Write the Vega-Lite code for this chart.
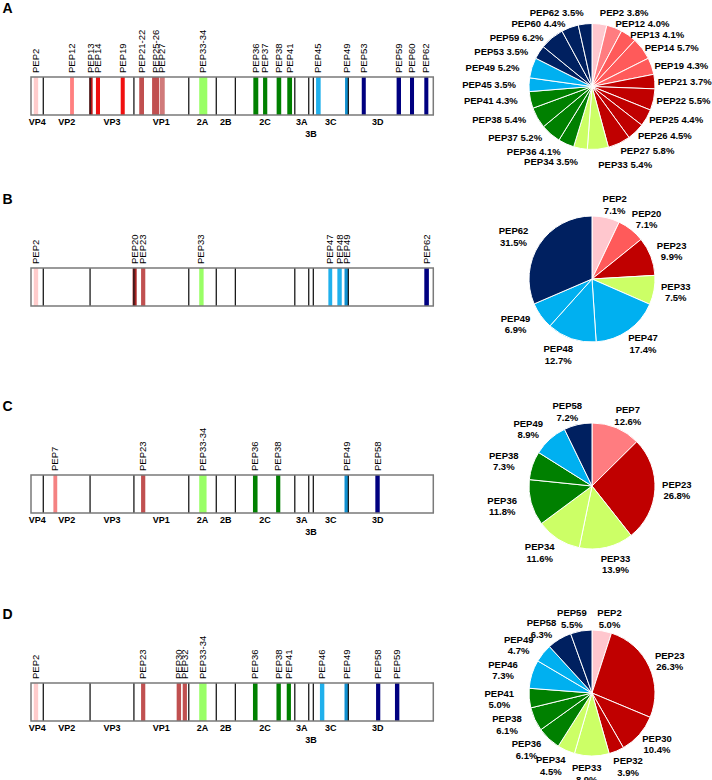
{
"$schema":"https://vega.github.io/schema/vega-lite/v6.json",
"padding":0,
"config":{"view":{"stroke":null},"text":{"font":"Liberation Sans","color":"#000"}},
"datasets":{
"segments":[{"name":"VP4","start":0,"end":67},{"name":"VP2","start":67,"end":322},{"name":"VP3","start":322,"end":561},{"name":"VP1","start":561,"end":860},{"name":"2A","start":860,"end":1010},{"name":"2B","start":1010,"end":1114},{"name":"2C","start":1114,"end":1438},{"name":"3A","start":1438,"end":1514},{"name":"3B","start":1514,"end":1539},{"name":"3C","start":1539,"end":1730},{"name":"3D","start":1730,"end":2193}],
"mapA":[{"pep":"PEP2","start":15,"end":39},{"pep":"PEP12","start":213,"end":234},{"pep":"PEP13","start":318,"end":336},{"pep":"PEP14","start":354,"end":376},{"pep":"PEP19","start":489,"end":511},{"pep":"PEP21-22","start":590,"end":616},{"pep":"PEP25-26","start":660,"end":699},{"pep":"PEP27","start":703,"end":729},{"pep":"PEP33-34","start":917,"end":961},{"pep":"PEP36","start":1212,"end":1239},{"pep":"PEP37","start":1265,"end":1288},{"pep":"PEP38","start":1339,"end":1364},{"pep":"PEP41","start":1397,"end":1423},{"pep":"PEP45","start":1554,"end":1579},{"pep":"PEP49","start":1712,"end":1733},{"pep":"PEP53","start":1803,"end":1825},{"pep":"PEP59","start":1993,"end":2017},{"pep":"PEP60","start":2066,"end":2088},{"pep":"PEP62","start":2144,"end":2166}],
"mapB":[{"pep":"PEP2","start":15,"end":39},{"pep":"PEP20","start":554,"end":576},{"pep":"PEP23","start":600,"end":623},{"pep":"PEP33","start":917,"end":941},{"pep":"PEP47","start":1621,"end":1642},{"pep":"PEP48","start":1670,"end":1694},{"pep":"PEP49","start":1709,"end":1732},{"pep":"PEP62","start":2144,"end":2169}],
"mapC":[{"pep":"PEP7","start":122,"end":143},{"pep":"PEP23","start":600,"end":623},{"pep":"PEP33-34","start":917,"end":957},{"pep":"PEP36","start":1210,"end":1235},{"pep":"PEP38","start":1336,"end":1359},{"pep":"PEP49","start":1709,"end":1732},{"pep":"PEP58","start":1877,"end":1901}],
"mapD":[{"pep":"PEP2","start":15,"end":39},{"pep":"PEP23","start":600,"end":623},{"pep":"PEP30","start":794,"end":818},{"pep":"PEP32","start":827,"end":850},{"pep":"PEP33-34","start":917,"end":957},{"pep":"PEP36","start":1210,"end":1235},{"pep":"PEP38","start":1338,"end":1362},{"pep":"PEP41","start":1394,"end":1417},{"pep":"PEP46","start":1575,"end":1599},{"pep":"PEP49","start":1709,"end":1732},{"pep":"PEP58","start":1881,"end":1904},{"pep":"PEP59","start":1984,"end":2008}],
"pieA":[{"i":1,"pep":"PEP2","value":3.8},{"i":2,"pep":"PEP12","value":4.0},{"i":3,"pep":"PEP13","value":4.1},{"i":4,"pep":"PEP14","value":5.7},{"i":5,"pep":"PEP19","value":4.3},{"i":6,"pep":"PEP21","value":3.7},{"i":7,"pep":"PEP22","value":5.5},{"i":8,"pep":"PEP25","value":4.4},{"i":9,"pep":"PEP26","value":4.5},{"i":10,"pep":"PEP27","value":5.8},{"i":11,"pep":"PEP33","value":5.4},{"i":12,"pep":"PEP34","value":3.5},{"i":13,"pep":"PEP36","value":4.1},{"i":14,"pep":"PEP37","value":5.2},{"i":15,"pep":"PEP38","value":5.4},{"i":16,"pep":"PEP41","value":4.3},{"i":17,"pep":"PEP45","value":3.5},{"i":18,"pep":"PEP49","value":5.2},{"i":19,"pep":"PEP53","value":3.5},{"i":20,"pep":"PEP59","value":6.2},{"i":21,"pep":"PEP60","value":4.4},{"i":22,"pep":"PEP62","value":3.5}],
"pieB":[{"i":1,"pep":"PEP2","value":7.1},{"i":2,"pep":"PEP20","value":7.1},{"i":3,"pep":"PEP23","value":9.9},{"i":4,"pep":"PEP33","value":7.5},{"i":5,"pep":"PEP47","value":17.4},{"i":6,"pep":"PEP48","value":12.7},{"i":7,"pep":"PEP49","value":6.9},{"i":8,"pep":"PEP62","value":31.5}],
"pieC":[{"i":1,"pep":"PEP7","value":12.6},{"i":2,"pep":"PEP23","value":26.8},{"i":3,"pep":"PEP33","value":13.9},{"i":4,"pep":"PEP34","value":11.6},{"i":5,"pep":"PEP36","value":11.8},{"i":6,"pep":"PEP38","value":7.3},{"i":7,"pep":"PEP49","value":8.9},{"i":8,"pep":"PEP58","value":7.2}],
"pieD":[{"i":1,"pep":"PEP2","value":5.0},{"i":2,"pep":"PEP23","value":26.3},{"i":3,"pep":"PEP30","value":10.4},{"i":4,"pep":"PEP32","value":3.9},{"i":5,"pep":"PEP33","value":8.9},{"i":6,"pep":"PEP34","value":4.5},{"i":7,"pep":"PEP36","value":6.1},{"i":8,"pep":"PEP38","value":6.1},{"i":9,"pep":"PEP41","value":5.0},{"i":10,"pep":"PEP46","value":7.3},{"i":11,"pep":"PEP49","value":4.7},{"i":12,"pep":"PEP58","value":6.3},{"i":13,"pep":"PEP59","value":5.5}]
},
"concat":[
{"width":472,"height":191,"layer":[
 {"data":{"name":"segments"},"mark":{"type":"rect","fill":"white"},"encoding":{"x":{"aggregate":"min","field":"start","type":"quantitative","scale":{"domain":[-169,2404],"nice":false,"zero":false},"axis":null},"x2":{"aggregate":"max","field":"end"},"y":{"datum":0,"type":"quantitative","scale":{"domain":[-2.0,3.0263],"nice":false,"zero":false},"axis":null},"y2":{"datum":1}}},
 {"data":{"name":"mapA"},"mark":{"type":"rect"},"encoding":{"x":{"field":"start","type":"quantitative"},"x2":{"field":"end"},"y":{"datum":0,"type":"quantitative"},"y2":{"datum":1},"fill":{"field":"pep","type":"nominal","legend":null,"scale":{"domain":["PEP2","PEP7","PEP12","PEP13","PEP14","PEP19","PEP20","PEP21-22","PEP23","PEP25-26","PEP27","PEP30","PEP32","PEP33","PEP33-34","PEP36","PEP37","PEP38","PEP41","PEP45","PEP46","PEP47","PEP48","PEP49","PEP53","PEP58","PEP59","PEP60","PEP62"],"range":["#ffcccc","#f48282","#ff8080","#b81414","#f01010","#f01010","#a82020","#c05050","#c05050","#c05050","#d07a7a","#c05050","#c05050","#99ff66","#99ff66","#008000","#008000","#008000","#008000","#20b0ec","#20b0ec","#20b0ec","#20b0ec","#1090d0","#000080","#000080","#000080","#000080","#000080"]}}}},
 {"data":{"name":"segments"},"transform":[{"filter":"datum.end < 2193"}],"mark":{"type":"rule","color":"#1a1a1a","strokeWidth":1.3},"encoding":{"x":{"field":"end","type":"quantitative"},"y":{"datum":0,"type":"quantitative"},"y2":{"datum":1}}},
 {"data":{"name":"segments"},"mark":{"type":"rect","filled":false,"color":"#7a7a7a","strokeWidth":1.5},"encoding":{"x":{"aggregate":"min","field":"start","type":"quantitative"},"x2":{"aggregate":"max","field":"end"},"y":{"datum":0,"type":"quantitative"},"y2":{"datum":1}}},
 {"data":{"name":"mapA"},"transform":[{"calculate":"(datum.start+datum.end)/2","as":"mid"}],"mark":{"type":"text","angle":270,"align":"left","baseline":"middle","fontSize":9.5},"encoding":{"x":{"field":"mid","type":"quantitative"},"y":{"datum":1.105,"type":"quantitative"},"text":{"field":"pep"}}},
 {"data":{"name":"segments"},"transform":[{"filter":"datum.name !== '3B' && datum.name !== '3D'"},{"calculate":"(datum.start+datum.end)/2","as":"mid"}],"mark":{"type":"text","fontWeight":"bold","fontSize":9,"baseline":"middle","align":"center"},"encoding":{"x":{"field":"mid","type":"quantitative"},"y":{"datum":-0.184,"type":"quantitative"},"text":{"field":"name"}}},
 {"data":{"name":"segments"},"transform":[{"filter":"datum.name === '3D'"},{"calculate":"(datum.start+datum.end)/2","as":"mid"}],"mark":{"type":"text","fontWeight":"bold","fontSize":9,"baseline":"middle","align":"center","dx":-13},"encoding":{"x":{"field":"mid","type":"quantitative"},"y":{"datum":-0.184,"type":"quantitative"},"text":{"field":"name"}}},
 {"data":{"name":"segments"},"transform":[{"filter":"datum.name === '3B'"},{"calculate":"(datum.start+datum.end)/2","as":"mid"}],"mark":{"type":"text","fontWeight":"bold","fontSize":9,"baseline":"middle","align":"center"},"encoding":{"x":{"field":"mid","type":"quantitative"},"y":{"datum":-0.5,"type":"quantitative"},"text":{"field":"name"}}},
 {"data":{"values":[{"panel":"A"}]},"mark":{"type":"text","fontWeight":"bold","fontSize":14,"baseline":"middle","align":"center"},"encoding":{"x":{"datum":-128,"type":"quantitative"},"y":{"datum":2.8,"type":"quantitative"},"text":{"field":"panel"}}}
]},
{"width":240,"height":173,"data":{"name":"pieA"},
 "transform":[{"stack":"value","groupby":[],"sort":[{"field":"i","order":"ascending"}],"as":["v0","v1"]},{"calculate":"(datum.v0+datum.v1)/2","as":"mid"},{"calculate":"datum.pep + ' ' + format(datum.value, '.1f') + '%'","as":"lab"},
  {"calculate":"2*PI*datum.mid/100","as":"a"},
  {"calculate":"(datum.mid < 50 ? 66 : 76)*sin(datum.a)","as":"dx"},
  {"calculate":"cos(datum.a) > 0 ? (-63.5*cos(datum.a) - 12*pow(cos(datum.a), 20)) : (-68*cos(datum.a) + 11*pow(abs(cos(datum.a)), 12))","as":"dy"},
  {"calculate":"sqrt(datum.dx*datum.dx + datum.dy*datum.dy)","as":"rr"},
  {"calculate":"100*atan2(datum.dx, -datum.dy)/(2*PI)","as":"ta"}],
 "layer":[
  {"mark":{"type":"arc","outerRadius":63,"stroke":"white","strokeWidth":1},"encoding":{"theta":{"field":"v0","type":"quantitative","stack":null,"scale":{"domain":[0,100]}},"theta2":{"field":"v1"},"color":{"field":"pep","type":"nominal","legend":null,"scale":{"domain":["PEP2","PEP7","PEP12","PEP13","PEP14","PEP19","PEP20","PEP21","PEP22","PEP23","PEP25","PEP26","PEP27","PEP30","PEP32","PEP33","PEP34","PEP36","PEP37","PEP38","PEP41","PEP45","PEP46","PEP47","PEP48","PEP49","PEP53","PEP58","PEP59","PEP60","PEP62"],"range":["#ffc7ce","#ff7c80","#ff7c80","#ff5a5a","#ff5a5a","#ff5a5a","#ff5a5a","#c00000","#c00000","#c00000","#c00000","#c00000","#c00000","#c00000","#c00000","#ccff66","#ccff66","#008000","#008000","#008000","#008000","#00b0f0","#00b0f0","#00b0f0","#00b0f0","#00b0f0","#002060","#002060","#002060","#002060","#002060"]}}}},
  {"transform":[{"filter":"datum.mid < 50"}],"mark":{"type":"text","align":"left","baseline":"middle","fontSize":9.5,"fontWeight":"bold"},"encoding":{"theta":{"field":"ta","type":"quantitative","stack":null},"radius":{"field":"rr","type":"quantitative","scale":null},"text":{"field":"lab"}}},
  {"transform":[{"filter":"datum.mid >= 50"}],"mark":{"type":"text","align":"right","baseline":"middle","fontSize":9.5,"fontWeight":"bold"},"encoding":{"theta":{"field":"ta","type":"quantitative","stack":null},"radius":{"field":"rr","type":"quantitative","scale":null},"text":{"field":"lab"}}}
 ]},
{"width":472,"height":207,"layer":[
 {"data":{"name":"segments"},"mark":{"type":"rect","fill":"white"},"encoding":{"x":{"aggregate":"min","field":"start","type":"quantitative","scale":{"domain":[-169,2404],"nice":false,"zero":false},"axis":null},"x2":{"aggregate":"max","field":"end"},"y":{"datum":0,"type":"quantitative","scale":{"domain":[-2.4211,3.0263],"nice":false,"zero":false},"axis":null},"y2":{"datum":1}}},
 {"data":{"name":"mapB"},"mark":{"type":"rect"},"encoding":{"x":{"field":"start","type":"quantitative"},"x2":{"field":"end"},"y":{"datum":0,"type":"quantitative"},"y2":{"datum":1},"fill":{"field":"pep","type":"nominal","legend":null,"scale":{"domain":["PEP2","PEP7","PEP12","PEP13","PEP14","PEP19","PEP20","PEP21-22","PEP23","PEP25-26","PEP27","PEP30","PEP32","PEP33","PEP33-34","PEP36","PEP37","PEP38","PEP41","PEP45","PEP46","PEP47","PEP48","PEP49","PEP53","PEP58","PEP59","PEP60","PEP62"],"range":["#ffcccc","#f48282","#ff8080","#b81414","#f01010","#f01010","#a82020","#c05050","#c05050","#c05050","#d07a7a","#c05050","#c05050","#99ff66","#99ff66","#008000","#008000","#008000","#008000","#20b0ec","#20b0ec","#20b0ec","#20b0ec","#1090d0","#000080","#000080","#000080","#000080","#000080"]}}}},
 {"data":{"name":"segments"},"transform":[{"filter":"datum.end < 2193"}],"mark":{"type":"rule","color":"#1a1a1a","strokeWidth":1.3},"encoding":{"x":{"field":"end","type":"quantitative"},"y":{"datum":0,"type":"quantitative"},"y2":{"datum":1}}},
 {"data":{"name":"segments"},"mark":{"type":"rect","filled":false,"color":"#7a7a7a","strokeWidth":1.5},"encoding":{"x":{"aggregate":"min","field":"start","type":"quantitative"},"x2":{"aggregate":"max","field":"end"},"y":{"datum":0,"type":"quantitative"},"y2":{"datum":1}}},
 {"data":{"name":"mapB"},"transform":[{"calculate":"(datum.start+datum.end)/2","as":"mid"}],"mark":{"type":"text","angle":270,"align":"left","baseline":"middle","fontSize":9.5},"encoding":{"x":{"field":"mid","type":"quantitative"},"y":{"datum":1.105,"type":"quantitative"},"text":{"field":"pep"}}},
 {"data":{"values":[{"panel":"B"}]},"mark":{"type":"text","fontWeight":"bold","fontSize":14,"baseline":"middle","align":"center"},"encoding":{"x":{"datum":-128,"type":"quantitative"},"y":{"datum":2.8,"type":"quantitative"},"text":{"field":"panel"}}}
]},
{"width":240,"height":176,"data":{"name":"pieB"},
 "transform":[{"stack":"value","groupby":[],"sort":[{"field":"i","order":"ascending"}],"as":["v0","v1"]},{"calculate":"(datum.v0+datum.v1)/2","as":"mid"},{"calculate":"datum.pep + '|' + format(datum.value, '.1f') + '%'","as":"lab"},
  {"calculate":"2*PI*datum.mid/100.1","as":"a"},
  {"calculate":"(datum.mid < 50 ? 80 : 88)*sin(datum.a) + (sin(datum.a) >= 0 ? 5 : -5)","as":"dx"},
  {"calculate":"(cos(datum.a) > 0 ? -76*cos(datum.a) : (-77*cos(datum.a) + 4*pow(abs(cos(datum.a)), 4))) - 5.75","as":"dy"},
  {"calculate":"sqrt(datum.dx*datum.dx + datum.dy*datum.dy)","as":"rr"},
  {"calculate":"100.1*atan2(datum.dx, -datum.dy)/(2*PI)","as":"ta"}],
 "layer":[
  {"mark":{"type":"arc","outerRadius":63,"stroke":"white","strokeWidth":1},"encoding":{"theta":{"field":"v0","type":"quantitative","stack":null,"scale":{"domain":[0,100.1]}},"theta2":{"field":"v1"},"color":{"field":"pep","type":"nominal","legend":null,"scale":{"domain":["PEP2","PEP7","PEP12","PEP13","PEP14","PEP19","PEP20","PEP21","PEP22","PEP23","PEP25","PEP26","PEP27","PEP30","PEP32","PEP33","PEP34","PEP36","PEP37","PEP38","PEP41","PEP45","PEP46","PEP47","PEP48","PEP49","PEP53","PEP58","PEP59","PEP60","PEP62"],"range":["#ffc7ce","#ff7c80","#ff7c80","#ff5a5a","#ff5a5a","#ff5a5a","#ff5a5a","#c00000","#c00000","#c00000","#c00000","#c00000","#c00000","#c00000","#c00000","#ccff66","#ccff66","#008000","#008000","#008000","#008000","#00b0f0","#00b0f0","#00b0f0","#00b0f0","#00b0f0","#002060","#002060","#002060","#002060","#002060"]}}}},
  {"mark":{"type":"text","align":"center","baseline":"middle","fontSize":9.5,"fontWeight":"bold","lineBreak":"|","lineHeight":11.5},"encoding":{"theta":{"field":"ta","type":"quantitative","stack":null},"radius":{"field":"rr","type":"quantitative","scale":null},"text":{"field":"lab"}}}
 ]},
{"width":472,"height":208,"layer":[
 {"data":{"name":"segments"},"mark":{"type":"rect","fill":"white"},"encoding":{"x":{"aggregate":"min","field":"start","type":"quantitative","scale":{"domain":[-169,2404],"nice":false,"zero":false},"axis":null},"x2":{"aggregate":"max","field":"end"},"y":{"datum":0,"type":"quantitative","scale":{"domain":[-2.4474,3.0263],"nice":false,"zero":false},"axis":null},"y2":{"datum":1}}},
 {"data":{"name":"mapC"},"mark":{"type":"rect"},"encoding":{"x":{"field":"start","type":"quantitative"},"x2":{"field":"end"},"y":{"datum":0,"type":"quantitative"},"y2":{"datum":1},"fill":{"field":"pep","type":"nominal","legend":null,"scale":{"domain":["PEP2","PEP7","PEP12","PEP13","PEP14","PEP19","PEP20","PEP21-22","PEP23","PEP25-26","PEP27","PEP30","PEP32","PEP33","PEP33-34","PEP36","PEP37","PEP38","PEP41","PEP45","PEP46","PEP47","PEP48","PEP49","PEP53","PEP58","PEP59","PEP60","PEP62"],"range":["#ffcccc","#f48282","#ff8080","#b81414","#f01010","#f01010","#a82020","#c05050","#c05050","#c05050","#d07a7a","#c05050","#c05050","#99ff66","#99ff66","#008000","#008000","#008000","#008000","#20b0ec","#20b0ec","#20b0ec","#20b0ec","#1090d0","#000080","#000080","#000080","#000080","#000080"]}}}},
 {"data":{"name":"segments"},"transform":[{"filter":"datum.end < 2193"}],"mark":{"type":"rule","color":"#1a1a1a","strokeWidth":1.3},"encoding":{"x":{"field":"end","type":"quantitative"},"y":{"datum":0,"type":"quantitative"},"y2":{"datum":1}}},
 {"data":{"name":"segments"},"mark":{"type":"rect","filled":false,"color":"#7a7a7a","strokeWidth":1.5},"encoding":{"x":{"aggregate":"min","field":"start","type":"quantitative"},"x2":{"aggregate":"max","field":"end"},"y":{"datum":0,"type":"quantitative"},"y2":{"datum":1}}},
 {"data":{"name":"mapC"},"transform":[{"calculate":"(datum.start+datum.end)/2","as":"mid"}],"mark":{"type":"text","angle":270,"align":"left","baseline":"middle","fontSize":9.5},"encoding":{"x":{"field":"mid","type":"quantitative"},"y":{"datum":1.105,"type":"quantitative"},"text":{"field":"pep"}}},
 {"data":{"name":"segments"},"transform":[{"filter":"datum.name !== '3B' && datum.name !== '3D'"},{"calculate":"(datum.start+datum.end)/2","as":"mid"}],"mark":{"type":"text","fontWeight":"bold","fontSize":9,"baseline":"middle","align":"center"},"encoding":{"x":{"field":"mid","type":"quantitative"},"y":{"datum":-0.184,"type":"quantitative"},"text":{"field":"name"}}},
 {"data":{"name":"segments"},"transform":[{"filter":"datum.name === '3D'"},{"calculate":"(datum.start+datum.end)/2","as":"mid"}],"mark":{"type":"text","fontWeight":"bold","fontSize":9,"baseline":"middle","align":"center","dx":-13},"encoding":{"x":{"field":"mid","type":"quantitative"},"y":{"datum":-0.184,"type":"quantitative"},"text":{"field":"name"}}},
 {"data":{"name":"segments"},"transform":[{"filter":"datum.name === '3B'"},{"calculate":"(datum.start+datum.end)/2","as":"mid"}],"mark":{"type":"text","fontWeight":"bold","fontSize":9,"baseline":"middle","align":"center"},"encoding":{"x":{"field":"mid","type":"quantitative"},"y":{"datum":-0.5,"type":"quantitative"},"text":{"field":"name"}}},
 {"data":{"values":[{"panel":"C"}]},"mark":{"type":"text","fontWeight":"bold","fontSize":14,"baseline":"middle","align":"center"},"encoding":{"x":{"datum":-128,"type":"quantitative"},"y":{"datum":2.8,"type":"quantitative"},"text":{"field":"panel"}}}
]},
{"width":240,"height":176,"data":{"name":"pieC"},
 "transform":[{"stack":"value","groupby":[],"sort":[{"field":"i","order":"ascending"}],"as":["v0","v1"]},{"calculate":"(datum.v0+datum.v1)/2","as":"mid"},{"calculate":"datum.pep + '|' + format(datum.value, '.1f') + '%'","as":"lab"},
  {"calculate":"2*PI*datum.mid/100.1","as":"a"},
  {"calculate":"(datum.mid < 50 ? 80 : 88)*sin(datum.a) + (sin(datum.a) >= 0 ? 5 : -5)","as":"dx"},
  {"calculate":"(cos(datum.a) > 0 ? -76*cos(datum.a) : (-77*cos(datum.a) + 4*pow(abs(cos(datum.a)), 4))) - 5.75","as":"dy"},
  {"calculate":"sqrt(datum.dx*datum.dx + datum.dy*datum.dy)","as":"rr"},
  {"calculate":"100.1*atan2(datum.dx, -datum.dy)/(2*PI)","as":"ta"}],
 "layer":[
  {"mark":{"type":"arc","outerRadius":63,"stroke":"white","strokeWidth":1},"encoding":{"theta":{"field":"v0","type":"quantitative","stack":null,"scale":{"domain":[0,100.1]}},"theta2":{"field":"v1"},"color":{"field":"pep","type":"nominal","legend":null,"scale":{"domain":["PEP2","PEP7","PEP12","PEP13","PEP14","PEP19","PEP20","PEP21","PEP22","PEP23","PEP25","PEP26","PEP27","PEP30","PEP32","PEP33","PEP34","PEP36","PEP37","PEP38","PEP41","PEP45","PEP46","PEP47","PEP48","PEP49","PEP53","PEP58","PEP59","PEP60","PEP62"],"range":["#ffc7ce","#ff7c80","#ff7c80","#ff5a5a","#ff5a5a","#ff5a5a","#ff5a5a","#c00000","#c00000","#c00000","#c00000","#c00000","#c00000","#c00000","#c00000","#ccff66","#ccff66","#008000","#008000","#008000","#008000","#00b0f0","#00b0f0","#00b0f0","#00b0f0","#00b0f0","#002060","#002060","#002060","#002060","#002060"]}}}},
  {"mark":{"type":"text","align":"center","baseline":"middle","fontSize":9.5,"fontWeight":"bold","lineBreak":"|","lineHeight":11.5},"encoding":{"theta":{"field":"ta","type":"quantitative","stack":null},"radius":{"field":"rr","type":"quantitative","scale":null},"text":{"field":"lab"}}}
 ]},
{"width":472,"height":174,"layer":[
 {"data":{"name":"segments"},"mark":{"type":"rect","fill":"white"},"encoding":{"x":{"aggregate":"min","field":"start","type":"quantitative","scale":{"domain":[-169,2404],"nice":false,"zero":false},"axis":null},"x2":{"aggregate":"max","field":"end"},"y":{"datum":0,"type":"quantitative","scale":{"domain":[-1.5526,3.0263],"nice":false,"zero":false},"axis":null},"y2":{"datum":1}}},
 {"data":{"name":"mapD"},"mark":{"type":"rect"},"encoding":{"x":{"field":"start","type":"quantitative"},"x2":{"field":"end"},"y":{"datum":0,"type":"quantitative"},"y2":{"datum":1},"fill":{"field":"pep","type":"nominal","legend":null,"scale":{"domain":["PEP2","PEP7","PEP12","PEP13","PEP14","PEP19","PEP20","PEP21-22","PEP23","PEP25-26","PEP27","PEP30","PEP32","PEP33","PEP33-34","PEP36","PEP37","PEP38","PEP41","PEP45","PEP46","PEP47","PEP48","PEP49","PEP53","PEP58","PEP59","PEP60","PEP62"],"range":["#ffcccc","#f48282","#ff8080","#b81414","#f01010","#f01010","#a82020","#c05050","#c05050","#c05050","#d07a7a","#c05050","#c05050","#99ff66","#99ff66","#008000","#008000","#008000","#008000","#20b0ec","#20b0ec","#20b0ec","#20b0ec","#1090d0","#000080","#000080","#000080","#000080","#000080"]}}}},
 {"data":{"name":"segments"},"transform":[{"filter":"datum.end < 2193"}],"mark":{"type":"rule","color":"#1a1a1a","strokeWidth":1.3},"encoding":{"x":{"field":"end","type":"quantitative"},"y":{"datum":0,"type":"quantitative"},"y2":{"datum":1}}},
 {"data":{"name":"segments"},"mark":{"type":"rect","filled":false,"color":"#7a7a7a","strokeWidth":1.5},"encoding":{"x":{"aggregate":"min","field":"start","type":"quantitative"},"x2":{"aggregate":"max","field":"end"},"y":{"datum":0,"type":"quantitative"},"y2":{"datum":1}}},
 {"data":{"name":"mapD"},"transform":[{"calculate":"(datum.start+datum.end)/2","as":"mid"}],"mark":{"type":"text","angle":270,"align":"left","baseline":"middle","fontSize":9.5},"encoding":{"x":{"field":"mid","type":"quantitative"},"y":{"datum":1.105,"type":"quantitative"},"text":{"field":"pep"}}},
 {"data":{"name":"segments"},"transform":[{"filter":"datum.name !== '3B' && datum.name !== '3D'"},{"calculate":"(datum.start+datum.end)/2","as":"mid"}],"mark":{"type":"text","fontWeight":"bold","fontSize":9,"baseline":"middle","align":"center"},"encoding":{"x":{"field":"mid","type":"quantitative"},"y":{"datum":-0.184,"type":"quantitative"},"text":{"field":"name"}}},
 {"data":{"name":"segments"},"transform":[{"filter":"datum.name === '3D'"},{"calculate":"(datum.start+datum.end)/2","as":"mid"}],"mark":{"type":"text","fontWeight":"bold","fontSize":9,"baseline":"middle","align":"center","dx":-13},"encoding":{"x":{"field":"mid","type":"quantitative"},"y":{"datum":-0.184,"type":"quantitative"},"text":{"field":"name"}}},
 {"data":{"name":"segments"},"transform":[{"filter":"datum.name === '3B'"},{"calculate":"(datum.start+datum.end)/2","as":"mid"}],"mark":{"type":"text","fontWeight":"bold","fontSize":9,"baseline":"middle","align":"center"},"encoding":{"x":{"field":"mid","type":"quantitative"},"y":{"datum":-0.5,"type":"quantitative"},"text":{"field":"name"}}},
 {"data":{"values":[{"panel":"D"}]},"mark":{"type":"text","fontWeight":"bold","fontSize":14,"baseline":"middle","align":"center"},"encoding":{"x":{"datum":-128,"type":"quantitative"},"y":{"datum":2.8,"type":"quantitative"},"text":{"field":"panel"}}}
]},
{"width":240,"height":174,"data":{"name":"pieD"},
 "transform":[{"stack":"value","groupby":[],"sort":[{"field":"i","order":"ascending"}],"as":["v0","v1"]},{"calculate":"(datum.v0+datum.v1)/2","as":"mid"},{"calculate":"datum.pep + '|' + format(datum.value, '.1f') + '%'","as":"lab"},
  {"calculate":"2*PI*datum.mid/100","as":"a"},
  {"calculate":"(datum.mid < 50 ? 80 : 88)*sin(datum.a) + (sin(datum.a) >= 0 ? 5 : -5)","as":"dx"},
  {"calculate":"(cos(datum.a) > 0 ? -75*cos(datum.a) : (-77*cos(datum.a) + 4*pow(abs(cos(datum.a)), 4))) - 5.75","as":"dy"},
  {"calculate":"sqrt(datum.dx*datum.dx + datum.dy*datum.dy)","as":"rr"},
  {"calculate":"100*atan2(datum.dx, -datum.dy)/(2*PI)","as":"ta"}],
 "layer":[
  {"mark":{"type":"arc","outerRadius":63,"stroke":"white","strokeWidth":1},"encoding":{"theta":{"field":"v0","type":"quantitative","stack":null,"scale":{"domain":[0,100]}},"theta2":{"field":"v1"},"color":{"field":"pep","type":"nominal","legend":null,"scale":{"domain":["PEP2","PEP7","PEP12","PEP13","PEP14","PEP19","PEP20","PEP21","PEP22","PEP23","PEP25","PEP26","PEP27","PEP30","PEP32","PEP33","PEP34","PEP36","PEP37","PEP38","PEP41","PEP45","PEP46","PEP47","PEP48","PEP49","PEP53","PEP58","PEP59","PEP60","PEP62"],"range":["#ffc7ce","#ff7c80","#ff7c80","#ff5a5a","#ff5a5a","#ff5a5a","#ff5a5a","#c00000","#c00000","#c00000","#c00000","#c00000","#c00000","#c00000","#c00000","#ccff66","#ccff66","#008000","#008000","#008000","#008000","#00b0f0","#00b0f0","#00b0f0","#00b0f0","#00b0f0","#002060","#002060","#002060","#002060","#002060"]}}}},
  {"mark":{"type":"text","align":"center","baseline":"middle","fontSize":9.5,"fontWeight":"bold","lineBreak":"|","lineHeight":11.5,"clip":true},"encoding":{"theta":{"field":"ta","type":"quantitative","stack":null},"radius":{"field":"rr","type":"quantitative","scale":null},"text":{"field":"lab"}}}
 ]}
],
"columns":2,
"spacing":0,
"bounds":"flush",
"align":"each",
"resolve":{"scale":{"theta":"independent","x":"independent","y":"independent"}}
}
